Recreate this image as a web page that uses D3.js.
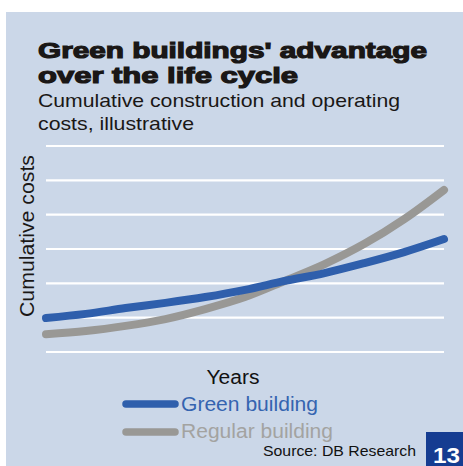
<!DOCTYPE html>
<html><head><meta charset="utf-8">
<script src="https://cdn.jsdelivr.net/npm/d3@7"></script>
<style>body{margin:0;background:#fff}svg{display:block}text{font-family:"Liberation Sans",Arial,sans-serif}</style>
</head><body>
<script>
const years = [0,1,2,3,4,5,6,7,8,9,10];
const greenBuilding = [0.99,1.11,1.28,1.43,1.60,1.81,2.07,2.30,2.59,2.91,3.29];
const regularBuilding = [0.52,0.61,0.76,0.96,1.25,1.60,2.07,2.56,3.15,3.87,4.72];
const gridTicks = [0,1,2,3,4,5,6];
const seriesNames = ["Green building","Regular building"];
const colors = ["#2f5fac","#999895"];

const W=463,H=466;
const svg=d3.select("body").append("svg").attr("width",W).attr("height",H);
svg.append("rect").attr("x",6).attr("y",12).attr("width",W-6).attr("height",H-12).attr("fill","#cbd7e8");

const x=d3.scaleLinear().domain([0,10]).range([46,444]);
const y=d3.scaleLinear().domain([0,6]).range([352,146]);

svg.append("g").selectAll("line").data(gridTicks).join("line")
  .attr("x1",46).attr("x2",444).attr("y1",d=>y(d)).attr("y2",d=>y(d))
  .attr("stroke","#fff").attr("stroke-width",2.2);

const line=d3.line().x((d,i)=>x(years[i])).y(d=>y(d)).curve(d3.curveCatmullRom);
[regularBuilding,greenBuilding].forEach((s,k)=>{
  const c = k===0?colors[1]:colors[0];
  svg.append("path").attr("d",line(s)).attr("fill","none").attr("stroke",c)
    .attr("stroke-width",8).attr("stroke-linecap","round");
});

function t(txt,xx,yy,opts){const e=svg.append("text").attr("x",xx).attr("y",yy).text(txt);
  Object.entries(opts||{}).forEach(([k,v])=>e.attr(k,v));return e;}
const fit={"lengthAdjust":"spacingAndGlyphs"};
t("Green buildings' advantage",38,58,{...fit,"font-size":22.5,"font-weight":"bold","fill":"#1a1716","stroke":"#1a1716","stroke-width":1.2,"textLength":389});
t("over the life cycle",38,83,{...fit,"font-size":22.5,"font-weight":"bold","fill":"#1a1716","stroke":"#1a1716","stroke-width":1.2,"textLength":260});
t("Cumulative construction and operating",38,107,{...fit,"font-size":18.5,"fill":"#1a1716","textLength":362});
t("costs, illustrative",38,130,{...fit,"font-size":18.5,"fill":"#1a1716","textLength":156});

svg.append("text").attr("transform","translate(34,236) rotate(-90)").attr("text-anchor","middle")
  .attr("font-size",20).attr("fill","#1a1716").attr("textLength",162).attr("lengthAdjust","spacingAndGlyphs").text("Cumulative costs");
t("Years",233,384,{...fit,"font-size":19.5,"fill":"#111","text-anchor":"middle","textLength":53});

const leg=[{n:seriesNames[0],c:colors[0],ly:404,ty:411,tc:"#3564b0",w:137},{n:seriesNames[1],c:colors[1],ly:432,ty:438,tc:"#a3a3a1",w:152}];
leg.forEach(l=>{
  svg.append("line").attr("x1",126).attr("x2",175).attr("y1",l.ly).attr("y2",l.ly)
    .attr("stroke",l.c).attr("stroke-width",7.5).attr("stroke-linecap","round");
  t(l.n,181,l.ty,{...fit,"font-size":19.5,"fill":l.tc,"textLength":l.w});
});
t("Source: DB Research",263,456,{...fit,"font-size":15,"fill":"#111","textLength":153});
svg.append("rect").attr("x",426).attr("y",432).attr("width",37).attr("height",34).attr("fill","#153c91");
t("13",446.5,463,{...fit,"font-size":22,"font-weight":"bold","fill":"#fff","text-anchor":"middle","textLength":27});
</script>
</body></html>
